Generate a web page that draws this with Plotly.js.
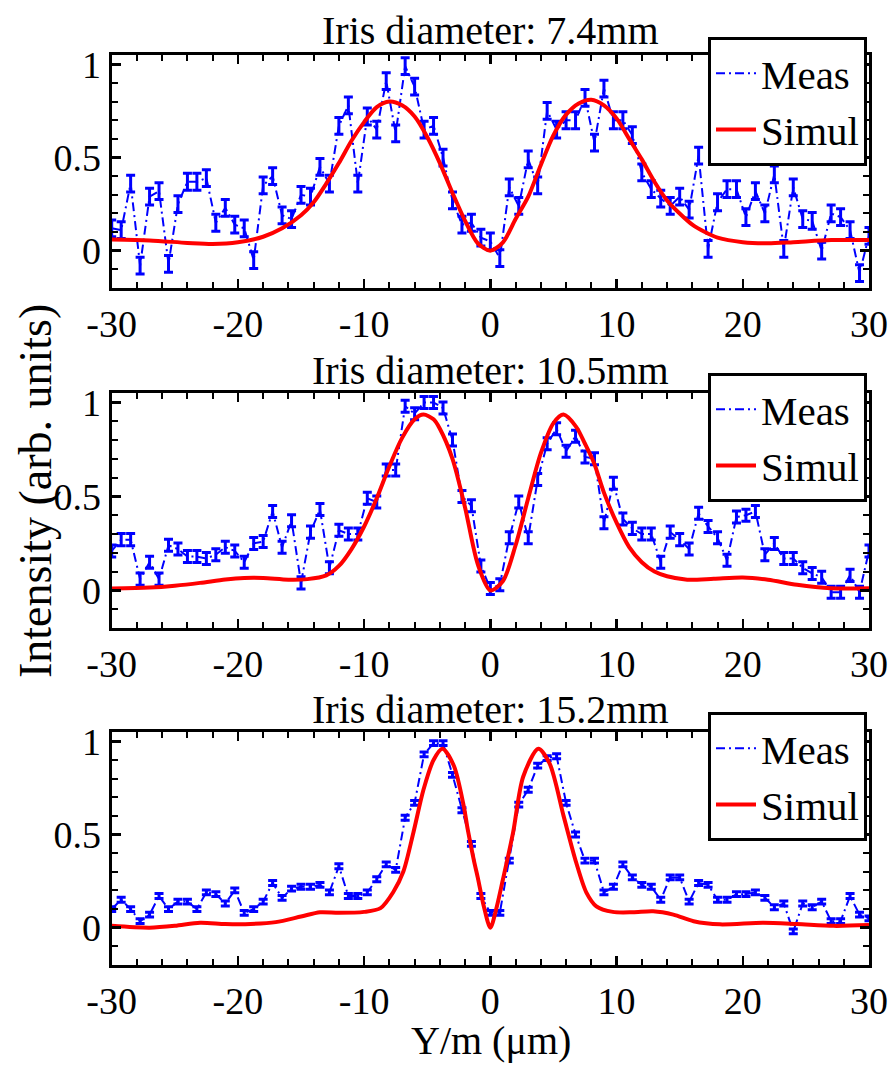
<!DOCTYPE html>
<html>
<head>
<meta charset="utf-8">
<script src="https://cdn.plot.ly/plotly-3.0.1.min.js"></script>
<style>
html,body{margin:0;padding:0;background:#fff;}
#chart{width:895px;height:1065px;}
#chart svg text{font-family:'Liberation Serif', serif !important;}
</style>
</head>
<body>
<div id="chart"></div>
<script>
// ---- data ----
const measX = [-30,-29.25,-28.5,-27.75,-27,-26.25,-25.5,-24.75,-24,-23.25,-22.5,-21.75,-21,-20.25,-19.5,-18.75,-18,-17.25,-16.5,-15.75,
  -15,-14.25,-13.5,-12.75,-12,-11.25,-10.5,-9.75,-9,-8.25,-7.5,-6.75,-6,-5.25,-4.5,-3.75,-3,-2.25,-1.5,-0.75,
  0,0.75,1.5,2.25,3,3.75,4.5,5.25,6,6.75,7.5,8.25,9,9.75,10.5,11.25,12,12.75,13.5,14.25,
  15,15.75,16.5,17.25,18,18.75,19.5,20.25,21,21.75,22.5,23.25,24,24.75,25.5,26.25,27,27.75,28.5,29.25,30];

const meas1 = [0.12,0.11,0.36,-0.08,0.29,0.32,-0.07,0.25,0.37,0.37,0.39,0.15,0.23,0.14,0.12,-0.05,0.35,0.40,0.19,0.17,
  0.30,0.29,0.45,0.36,0.67,0.78,0.36,0.72,0.65,0.91,0.63,0.99,0.88,0.65,0.67,0.50,0.27,0.14,0.15,0.07,
  0.05,-0.04,0.34,0.24,0.49,0.35,0.75,0.65,0.70,0.70,0.82,0.58,0.87,0.70,0.70,0.62,0.42,0.33,0.28,0.24,
  0.29,0.22,0.51,0.01,0.26,0.33,0.33,0.18,0.32,0.20,0.41,0.01,0.34,0.17,0.16,0.00,0.20,0.18,0.11,-0.12,0.08];
const meas2 = [0.21,0.27,0.27,0.06,0.15,0.06,0.24,0.22,0.18,0.18,0.17,0.19,0.23,0.21,0.15,0.25,0.26,0.42,0.23,0.37,
  0.04,0.31,0.43,0.12,0.32,0.30,0.30,0.49,0.47,0.64,0.64,0.98,0.94,1.00,1.00,0.97,0.80,0.50,0.45,0.13,
  0.01,0.03,0.28,0.47,0.28,0.59,0.78,0.86,0.74,0.82,0.71,0.70,0.36,0.57,0.38,0.33,0.30,0.30,0.15,0.31,
  0.27,0.22,0.41,0.34,0.28,0.16,0.39,0.40,0.42,0.19,0.25,0.17,0.17,0.12,0.09,0.07,-0.01,-0.01,0.08,-0.01,0.21];
const meas3 = [0.10,0.15,0.10,0.035,0.07,0.17,0.10,0.14,0.14,0.10,0.19,0.18,0.13,0.20,0.08,0.10,0.14,0.24,0.16,0.21,
  0.22,0.22,0.23,0.19,0.33,0.17,0.17,0.19,0.26,0.34,0.31,0.59,0.67,0.93,0.99,0.99,0.82,0.63,0.45,0.17,
  0.08,0.08,0.36,0.66,0.74,0.87,0.91,0.92,0.67,0.50,0.36,0.36,0.19,0.22,0.34,0.27,0.23,0.22,0.15,0.27,
  0.27,0.14,0.24,0.23,0.15,0.15,0.18,0.18,0.19,0.16,0.11,0.13,-0.02,0.13,0.11,0.14,0.035,0.035,0.17,0.07,0.05];
const measErr = [0.045, 0.032, 0.013];

const sim1X = [-30,-27,-24,-22,-20,-18,-16.5,-15,-14,-13,-12,-11,-10,-9,-8,-7,-6,-5,-4,-3,-2,-1,0,
  1,2,3,4,5,6,7,8,9,10,11,12,13,14,15,16,17,18,20,22,24,27,30];
const sim1Y = [0.06,0.055,0.042,0.036,0.045,0.075,0.12,0.19,0.26,0.36,0.47,0.59,0.69,0.77,0.80,0.78,0.72,0.61,0.47,0.31,0.16,0.04,0.0,
  0.045,0.17,0.29,0.46,0.62,0.73,0.79,0.81,0.78,0.71,0.60,0.49,0.37,0.27,0.20,0.14,0.10,0.07,0.046,0.04,0.046,0.057,0.057];

const sim2X = [-30,-27,-25,-23,-21,-19.5,-18,-16,-14.5,-13,-12,-11,-10,-9,-8,-7,-6,-5.3,-4.5,-4,-3,-2,-1,0,
  1,2,3,4,5,5.8,6.8,7.5,8.2,9,10,11,12,13,14,15.6,17.7,20,22,24.3,27,30];
const sim2Y = [0.01,0.015,0.025,0.04,0.058,0.066,0.066,0.057,0.06,0.08,0.13,0.22,0.34,0.49,0.66,0.81,0.91,0.935,0.91,0.86,0.70,0.44,0.14,0.0,
  0.05,0.24,0.49,0.73,0.89,0.935,0.87,0.78,0.68,0.52,0.36,0.23,0.15,0.10,0.075,0.057,0.062,0.069,0.057,0.03,0.012,0.012];

const sim3X = [-30,-27,-25,-23,-21,-19,-17,-15,-13.5,-12,-10,-8.7,-7.7,-6.9,-6.1,-5.3,-4.5,-3.8,-2.9,-2.1,-1.8,-1.3,-1,-0.5,0,
  0.5,1,1.8,2.6,3.8,4.7,5.8,6.8,7.6,8.4,9.7,11.3,12.9,14.5,16.1,18.2,21.6,24.3,27.2,30];
const sim3Y = [0.01,0.0,0.01,0.027,0.02,0.02,0.03,0.06,0.083,0.08,0.085,0.105,0.19,0.30,0.51,0.74,0.90,0.96,0.87,0.65,0.53,0.36,0.27,0.11,0.0,
  0.11,0.26,0.51,0.81,0.96,0.88,0.60,0.35,0.19,0.115,0.085,0.083,0.088,0.07,0.035,0.018,0.027,0.02,0.01,0.014];

const panelTitles = ['Iris diameter: 7.4mm', 'Iris diameter: 10.5mm', 'Iris diameter: 15.2mm'];
const seriesNames = ['Meas', 'Simul'];
const xTickVals = [-30,-20,-10,0,10,20,30];
const xTickText = ['-30','-20','-10','0','10','20','30'];
const yTickVals = [0,0.5,1];
const yTickText = ['0','0.5','1'];
const xLabel = 'Y/m (\u03bcm)';
const yLabel = 'Intensity (arb. units)';

// ---- layout helpers ----
const W = 895, H = 1065;
const FONT = "'Liberation Serif', serif";
const xDom = [111.7 / W, 869 / W];
const panelsPx = [[55, 288], [393, 628], [732, 965]];
const titleCy = [31, 370, 709];
const legTop = [37, 373, 712];

const measAll = [meas1, meas2, meas3];
const simX = [sim1X, sim2X, sim3X];
const simY = [sim1Y, sim2Y, sim3Y];

function fnt(size) { return {family: FONT, size: size, color: 'black'}; }
function axisBase() {
  return {
    showline: true, mirror: 'ticks', linecolor: 'black', linewidth: 3,
    ticks: 'inside', ticklen: 9, tickwidth: 2.5, tickcolor: 'black',
    showgrid: false, zeroline: false, tickmode: 'array',
    tickfont: fnt(38)
  };
}

const traces = [];
const layout = {
  width: W, height: H,
  margin: {l: 0, r: 0, t: 0, b: 0},
  paper_bgcolor: '#fff', plot_bgcolor: '#fff',
  font: fnt(20),
  showlegend: true,
  annotations: []
};

for (let p = 0; p < 3; p++) {
  const s = p === 0 ? '' : String(p + 1);
  const leg = 'legend' + s;
  traces.push({
    x: measX, y: measAll[p], type: 'scatter', mode: 'lines', name: seriesNames[0],
    xaxis: 'x' + s, yaxis: 'y' + s, legend: leg,
    line: {color: '#0000ff', width: 2, dash: '9px,4px,2px,4px'},
    error_y: {type: 'constant', value: measErr[p], thickness: 3, width: 4.5, color: '#0000ff'}
  });
  traces.push({
    x: simX[p], y: simY[p], type: 'scatter', mode: 'lines', name: seriesNames[1],
    xaxis: 'x' + s, yaxis: 'y' + s, legend: leg,
    line: {color: '#ff0000', width: 4, shape: 'spline', smoothing: 0.8}
  });
  const yd = [1 - panelsPx[p][1] / H, 1 - panelsPx[p][0] / H];
  layout['xaxis' + s] = Object.assign(axisBase(), {
    domain: xDom, range: [-30, 30], anchor: 'y' + s,
    tickvals: xTickVals, ticktext: xTickText,
    minor: {tickmode: 'linear', tick0: 0, dtick: 2, ticks: 'inside', ticklen: 6, tickwidth: 2, tickcolor: 'black'}
  });
  layout['yaxis' + s] = Object.assign(axisBase(), {
    domain: yd, range: [-0.2, 1.05], anchor: 'x' + s,
    tickvals: yTickVals, ticktext: yTickText,
    minor: {tickmode: 'linear', tick0: 0, dtick: 0.1, ticks: 'inside', ticklen: 6, tickwidth: 2, tickcolor: 'black'}
  });
  layout[leg] = {
    x: 708 / W, xanchor: 'left', y: 1 - legTop[p] / H, yanchor: 'top',
    bgcolor: '#fff', bordercolor: 'black', borderwidth: 3,
    font: fnt(41), itemwidth: 40, tracegroupgap: 0
  };
  layout.annotations.push({
    text: panelTitles[p], xref: 'paper', yref: 'paper',
    x: (xDom[0] + xDom[1]) / 2, y: 1 - titleCy[p] / H, xanchor: 'center', yanchor: 'middle',
    showarrow: false, font: fnt(40)
  });
}
layout.annotations.push({
  text: yLabel, xref: 'paper', yref: 'paper', x: 35 / W, y: 1 - 491 / H,
  xanchor: 'center', yanchor: 'middle', textangle: -90, showarrow: false,
  font: fnt(46)
});
layout.annotations.push({
  text: xLabel, xref: 'paper', yref: 'paper', x: 491 / W, y: 1 - 1040 / H,
  xanchor: 'center', yanchor: 'middle', showarrow: false,
  font: fnt(40)
});

Plotly.newPlot('chart', traces, layout, {displayModeBar: false, staticPlot: true});
</script>
</body>
</html>
